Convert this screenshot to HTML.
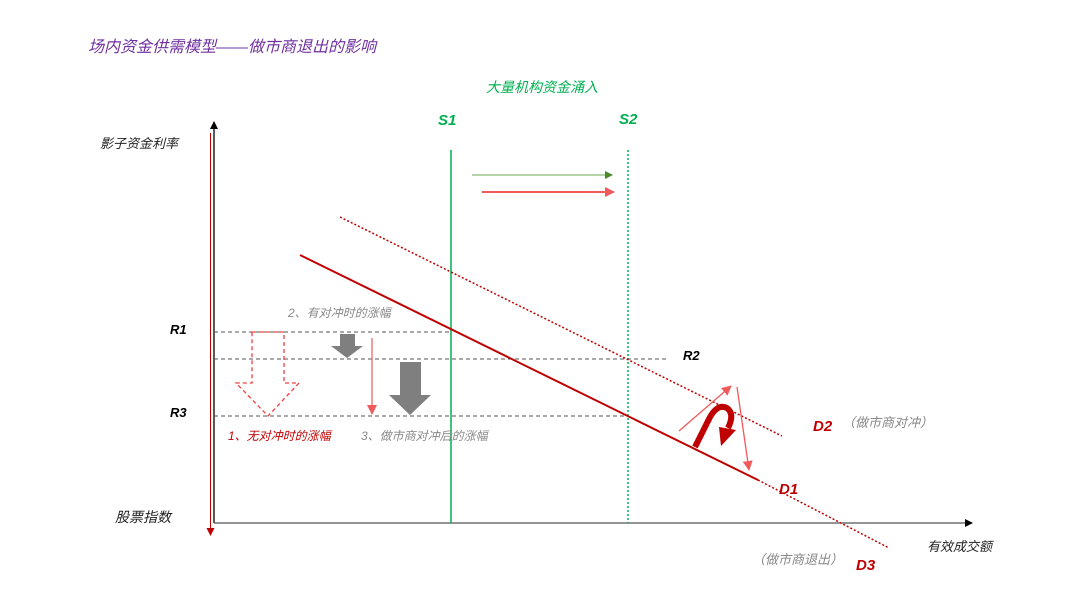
<!DOCTYPE html>
<html><head><meta charset="utf-8"><style>
html,body{margin:0;padding:0;background:#fff;}
svg text{font-family:"Liberation Sans","Noto Sans CJK SC",sans-serif;font-style:italic;}
</style></head><body>
<svg width="1080" height="601" viewBox="0 0 1080 601" xmlns="http://www.w3.org/2000/svg">
<defs>
<marker id="ab" markerWidth="8" markerHeight="8" refX="7" refY="4" orient="auto" markerUnits="userSpaceOnUse"><path d="M0,0 L8,4 L0,8 z" fill="#000"/></marker>
<marker id="ar" markerWidth="10" markerHeight="10" refX="9" refY="5" orient="auto" markerUnits="userSpaceOnUse"><path d="M0,0 L10,5 L0,10 z" fill="#f05a5a"/></marker>
<marker id="ag" markerWidth="8" markerHeight="8" refX="7" refY="4" orient="auto" markerUnits="userSpaceOnUse"><path d="M0,0 L8,4 L0,8 z" fill="#4a8a2a"/></marker>
<marker id="ad" markerWidth="8" markerHeight="8" refX="7" refY="4" orient="auto" markerUnits="userSpaceOnUse"><path d="M0,0 L8,4 L0,8 z" fill="#c00000"/></marker>
</defs>
<text x="88" y="52" font-size="16" fill="#7030a0">场内资金供需模型——做市商退出的影响</text>
<text x="486" y="92" font-size="14" fill="#00b050">大量机构资金涌入</text>
<text x="438" y="125" font-size="15" font-weight="bold" fill="#00b050">S1</text>
<text x="619" y="124" font-size="15" font-weight="bold" fill="#00b050">S2</text>
<text x="100" y="148" font-size="13" fill="#222">影子资金利率</text>
<text x="115" y="522" font-size="14" fill="#222">股票指数</text>
<text x="927" y="551" font-size="13" fill="#222">有效成交额</text>
<!-- axes -->
<line x1="214" y1="523" x2="214" y2="122" stroke="#000" stroke-width="1.3" marker-end="url(#ab)"/>
<line x1="214" y1="523" x2="972" y2="523" stroke="#555" stroke-width="1.3" marker-end="url(#ab)"/>
<line x1="210.5" y1="133" x2="210.5" y2="535" stroke="#c00000" stroke-width="1" marker-end="url(#ad)"/>
<!-- S lines -->
<line x1="451" y1="150" x2="451" y2="523" stroke="#00b050" stroke-width="1.5"/>
<line x1="628" y1="150" x2="628" y2="523" stroke="#00b050" stroke-width="1.5" stroke-dasharray="2,2"/>
<line x1="472" y1="175" x2="612" y2="175" stroke="#6aa84f" stroke-width="1" marker-end="url(#ag)"/>
<line x1="482" y1="192" x2="614" y2="192" stroke="#f05a5a" stroke-width="2" marker-end="url(#ar)"/>
<!-- R lines -->
<line x1="214" y1="332" x2="451" y2="332" stroke="#555" stroke-dasharray="4,3"/>
<line x1="214" y1="359" x2="666" y2="359" stroke="#555" stroke-dasharray="4,3"/>
<line x1="214" y1="416" x2="628" y2="416" stroke="#555" stroke-dasharray="4,3"/>
<text x="170" y="334" font-size="13" font-weight="bold" fill="#000">R1</text>
<text x="683" y="360" font-size="13" font-weight="bold" fill="#000">R2</text>
<text x="170" y="417" font-size="13" font-weight="bold" fill="#000">R3</text>
<!-- D lines -->
<line x1="300" y1="255" x2="758" y2="480" stroke="#c00000" stroke-width="2"/>
<line x1="758" y1="480" x2="889" y2="548" stroke="#c00000" stroke-width="1.5" stroke-dasharray="2,2"/>
<line x1="340" y1="217" x2="782" y2="436" stroke="#c00000" stroke-width="1.5" stroke-dasharray="2,2"/>
<text x="813" y="431" font-size="15" font-weight="bold" fill="#c00000">D2</text>
<text x="842" y="427" font-size="13" fill="#888">（做市商对冲）</text>
<text x="779" y="494" font-size="15" font-weight="bold" fill="#c00000">D1</text>
<text x="856" y="570" font-size="15" font-weight="bold" fill="#c00000">D3</text>
<text x="752" y="564" font-size="13" fill="#888">（做市商退出）</text>
<!-- labels -->
<text x="288" y="317" font-size="12" fill="#888">2、有对冲时的涨幅</text>
<text x="228" y="440" font-size="12" fill="#c00000">1、无对冲时的涨幅</text>
<text x="361" y="440" font-size="12" fill="#888">3、做市商对冲后的涨幅</text>
<!-- dashed big arrow -->
<path d="M252,332 L284,332 L284,383 L299,383 L268,416 L236,383 L252,383 Z" fill="none" stroke="#f04040" stroke-width="1.3" stroke-dasharray="4,3"/>
<!-- gray arrows -->
<path d="M340,334 L355,334 L355,346 L363,346 L347,358 L331,346 L340,346 Z" fill="#7f7f7f"/>
<path d="M400,362 L421,362 L421,395 L431,395 L410,415 L389,395 L400,395 Z" fill="#7f7f7f"/>
<line x1="372" y1="338" x2="372" y2="414" stroke="#f05a5a" stroke-width="1.2" marker-end="url(#ar)"/>
<!-- right arrows -->
<line x1="679" y1="431" x2="731" y2="386" stroke="#f05a5a" stroke-width="1.3" marker-end="url(#ar)"/>
<line x1="737" y1="387" x2="749" y2="470" stroke="#f05a5a" stroke-width="1.3" marker-end="url(#ar)"/>
<path d="M695,447 L709,419 Q717,403 727,408 Q735,414 728,428" fill="none" stroke="#c00000" stroke-width="6"/>
<path d="M719,427 L736,430 L721,446 Z" fill="#c00000"/>
</svg>
</body></html>
